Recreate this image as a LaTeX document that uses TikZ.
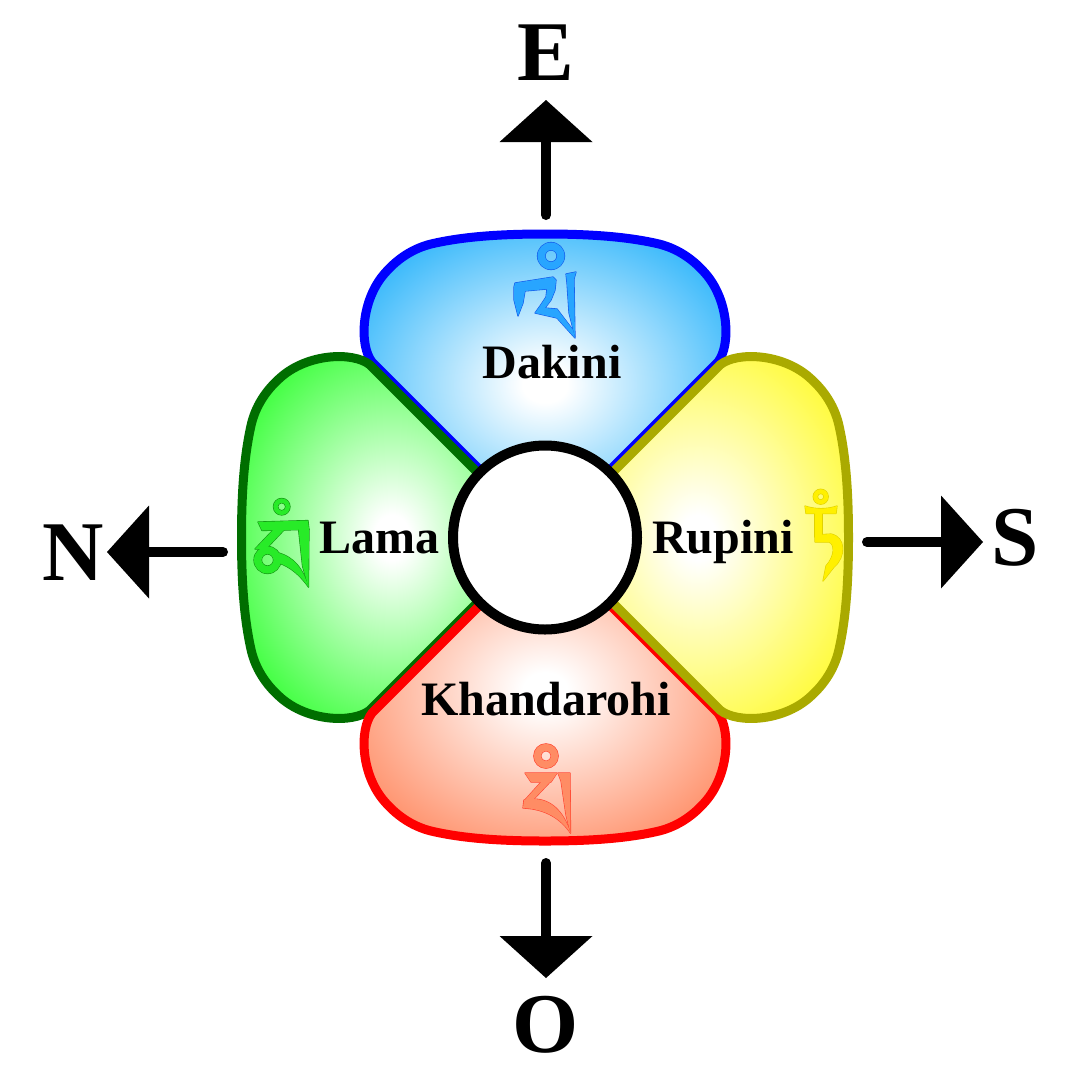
\documentclass[tikz,border=0pt]{standalone}
\usepackage{fontspec}
\setmainfont{Liberation Serif}
\usetikzlibrary{arrows.meta}

% petal colours
\definecolor{dakinifill}{RGB}{15,170,250}
\definecolor{dakiniline}{RGB}{0,0,255}
\definecolor{dakiniglyph}{RGB}{40,165,255}
\definecolor{dakiniink}{RGB}{20,90,235}
\definecolor{lamafill}{RGB}{25,255,25}
\definecolor{lamaline}{RGB}{0,110,0}
\definecolor{lamaglyph}{RGB}{40,235,40}
\definecolor{lamaink}{RGB}{20,150,20}
\definecolor{rupinifill}{RGB}{255,250,20}
\definecolor{rupiniline}{RGB}{170,170,0}
\definecolor{rupiniglyph}{RGB}{255,240,0}
\definecolor{rupiniink}{RGB}{225,210,0}
\definecolor{khandarohifill}{RGB}{255,125,80}
\definecolor{khandarohiline}{RGB}{255,0,0}
\definecolor{khandarohiglyph}{RGB}{255,140,100}
\definecolor{khandarohiink}{RGB}{255,70,50}

\pgfdeclareradialshading{dakinishade}{\pgfpoint{0bp}{0bp}}{color(0bp)=(white); color(3bp)=(white); color(34bp)=(dakinifill); color(50bp)=(dakinifill)}
\pgfdeclareradialshading{lamashade}{\pgfpoint{0bp}{0bp}}{color(0bp)=(white); color(3bp)=(white); color(34bp)=(lamafill); color(50bp)=(lamafill)}
\pgfdeclareradialshading{rupinishade}{\pgfpoint{0bp}{0bp}}{color(0bp)=(white); color(3bp)=(white); color(34bp)=(rupinifill); color(50bp)=(rupinifill)}
\pgfdeclareradialshading{khandarohishade}{\pgfpoint{0bp}{0bp}}{color(0bp)=(white); color(3bp)=(white); color(34bp)=(khandarohifill); color(50bp)=(khandarohifill)}

% one petal, pointing up from the hub
\newcommand\petalpath{(0,0) -- (-173,-173)
  .. controls (-186,-190) and (-184,-235) .. (-160,-262)
  .. controls (-146,-278) and (-130,-287) .. (-114,-291)
  .. controls (-80,-299) and (-40,-301) .. (0,-301)
  .. controls (40,-301) and (80,-299) .. (114,-291)
  .. controls (130,-287) and (146,-278) .. (160,-262)
  .. controls (184,-235) and (186,-190) .. (173,-173) -- cycle}

% seed syllables
\newcommand\glyphdakini[1]{%
  \path[#1, even odd rule] (551,256) circle[radius=13.5] (551,256) circle[radius=6];
  \path[#1] (515,283) -- (553,277) -- (556,280) -- (555,290) -- (551,300) -- (545,308)
    -- (557,309) -- (573,330) -- (575,338) -- (557,318) -- (535,313) -- (540,306)
    -- (546,297) -- (547,289) -- (525,291) -- (523,303) -- (518,316) -- (514,300)
    -- (514,287) -- cycle;
  \path[#1] (566,274) -- (576,272) -- (574,279) -- (575,337) -- (569,313) -- (567,283) -- cycle;
}
\newcommand\glyphlama[1]{%
  \path[#1, even odd rule] (281.7,506.7) circle[radius=8.3] (281.7,506.7) circle[radius=4];
  \path[#1] (258,522) -- (308,520.5) -- (309,529.5) -- (262,530.5) -- cycle;
  \path[#1] (298.5,529) -- (309,529) -- (308.5,587) -- (302.5,566) -- cycle;
  \path[#1] (273,530) -- (284,530) -- (266,549) -- (255,549) -- cycle;
  \path[#1, even odd rule] (267.5,560) circle[radius=13.5] (267.5,560) circle[radius=6];
  \path[#1] (279,553) .. controls (293,557) and (303,568) .. (308.5,587)
    .. controls (299,574) and (290,567) .. (279,563) -- cycle;
}
\newcommand\glyphrupini[1]{%
  \path[#1, even odd rule] (820.7,496.7) circle[radius=7.5] (820.7,496.7) circle[radius=3.3];
  \path[#1] (805,506) .. controls (815,509.5) and (827,509.5) .. (837,506) -- (836,513.5) -- (806,513.5) -- cycle;
  \path[#1] (815,513) -- (822,513) -- (822,537) -- (815,537) -- cycle;
  \path[#1] (815,535) -- (831,534) .. controls (846,537) and (846,557) .. (834,567) -- (823,581)
    -- (826,566) .. controls (835,556) and (835,544) .. (829,542) -- (815,542) -- cycle;
}
\newcommand\glyphkhandarohi[1]{%
  \path[#1, even odd rule] (546,756) circle[radius=12.2] (546,756) circle[radius=5.3];
  \path[#1] (525,773) -- (557,773) -- (551,782) -- (531,782) -- cycle;
  \path[#1] (558,773) -- (570,773) -- (570.5,833) -- (566,815) -- (561,781) -- cycle;
  \path[#1] (542,781) -- (551,781) -- (532,801) -- (524,801) -- cycle;
  \path[#1] (524,800) -- (533,799) .. controls (550,799) and (563,810) .. (570.5,833)
    .. controls (561,819) and (546,809) .. (523,808) -- cycle;
}

\begin{document}
\begin{tikzpicture}[x=1pt, y=-1pt,
    petal/.style={line width=9pt, line join=round},
    glyphedge/.style={draw=#1, fill=#1, line width=1.2pt, line join=round},
    glyphbody/.style={fill=#1},
    hub/.style={circle, draw, line width=10pt, fill=white, minimum size=184pt, inner sep=0pt},
    petallabel/.style={anchor=base, inner sep=0pt, font=\bfseries\fontsize{48}{48}\selectfont},
    compasslabel/.style={anchor=base, inner sep=0pt, font=\bfseries\fontsize{85}{85}\selectfont},
    compass/.style={line width=10pt, line cap=round, -{Triangle[length=42pt, width=93pt, line width=0pt]}}]
  \useasboundingbox (0,0) rectangle (1092,1080);
  \coordinate (centre) at (545,537.5);

  % petals
  \foreach \ang/\shd/\ln in {0/dakinishade/dakiniline, 90/lamashade/lamaline,
      180/khandarohishade/khandarohiline, 270/rupinishade/rupiniline}
    \path[petal, shade, shading=\shd, draw=\ln, shift={(centre)}, rotate=\ang, yshift=2.5pt] \petalpath;

  % syllables
  \glyphdakini{glyphedge=dakiniink}
  \glyphdakini{glyphbody=dakiniglyph}
  \glyphlama{glyphedge=lamaink}
  \glyphlama{glyphbody=lamaglyph}
  \glyphrupini{glyphedge=rupiniink}
  \glyphrupini{glyphbody=rupiniglyph}
  \glyphkhandarohi{glyphedge=khandarohiink}
  \glyphkhandarohi{glyphbody=khandarohiglyph}

  \node[petallabel] (dakini) at (552,378) {Dakini};
  \node[petallabel] (lama) at (379,553) {Lama};
  \node[petallabel] (rupini) at (723,553) {Rupini};
  \node[petallabel] (khandarohi) at (546,715) {Khandarohi};

  \node[hub] (hub) at (centre) {};

  % compass
  \node[compasslabel] (east) at (546,80) {E};
  \node[compasslabel] (west) at (546,1052) {O};
  \node[compasslabel] (north) at (73,580) {N};
  \node[compasslabel] (south) at (1015,565) {S};
  \coordinate (east tail) at (546,215);
  \coordinate (east head) at (546,100);
  \coordinate (west tail) at (546,863);
  \coordinate (west head) at (546,978);
  \coordinate (north tail) at (223,552);
  \coordinate (north head) at (107,552);
  \coordinate (south tail) at (867,542);
  \coordinate (south head) at (983,542);
  \draw[compass] (east tail) -- (east head);
  \draw[compass] (west tail) -- (west head);
  \draw[compass] (north tail) -- (north head);
  \draw[compass] (south tail) -- (south head);
\end{tikzpicture}
\end{document}
